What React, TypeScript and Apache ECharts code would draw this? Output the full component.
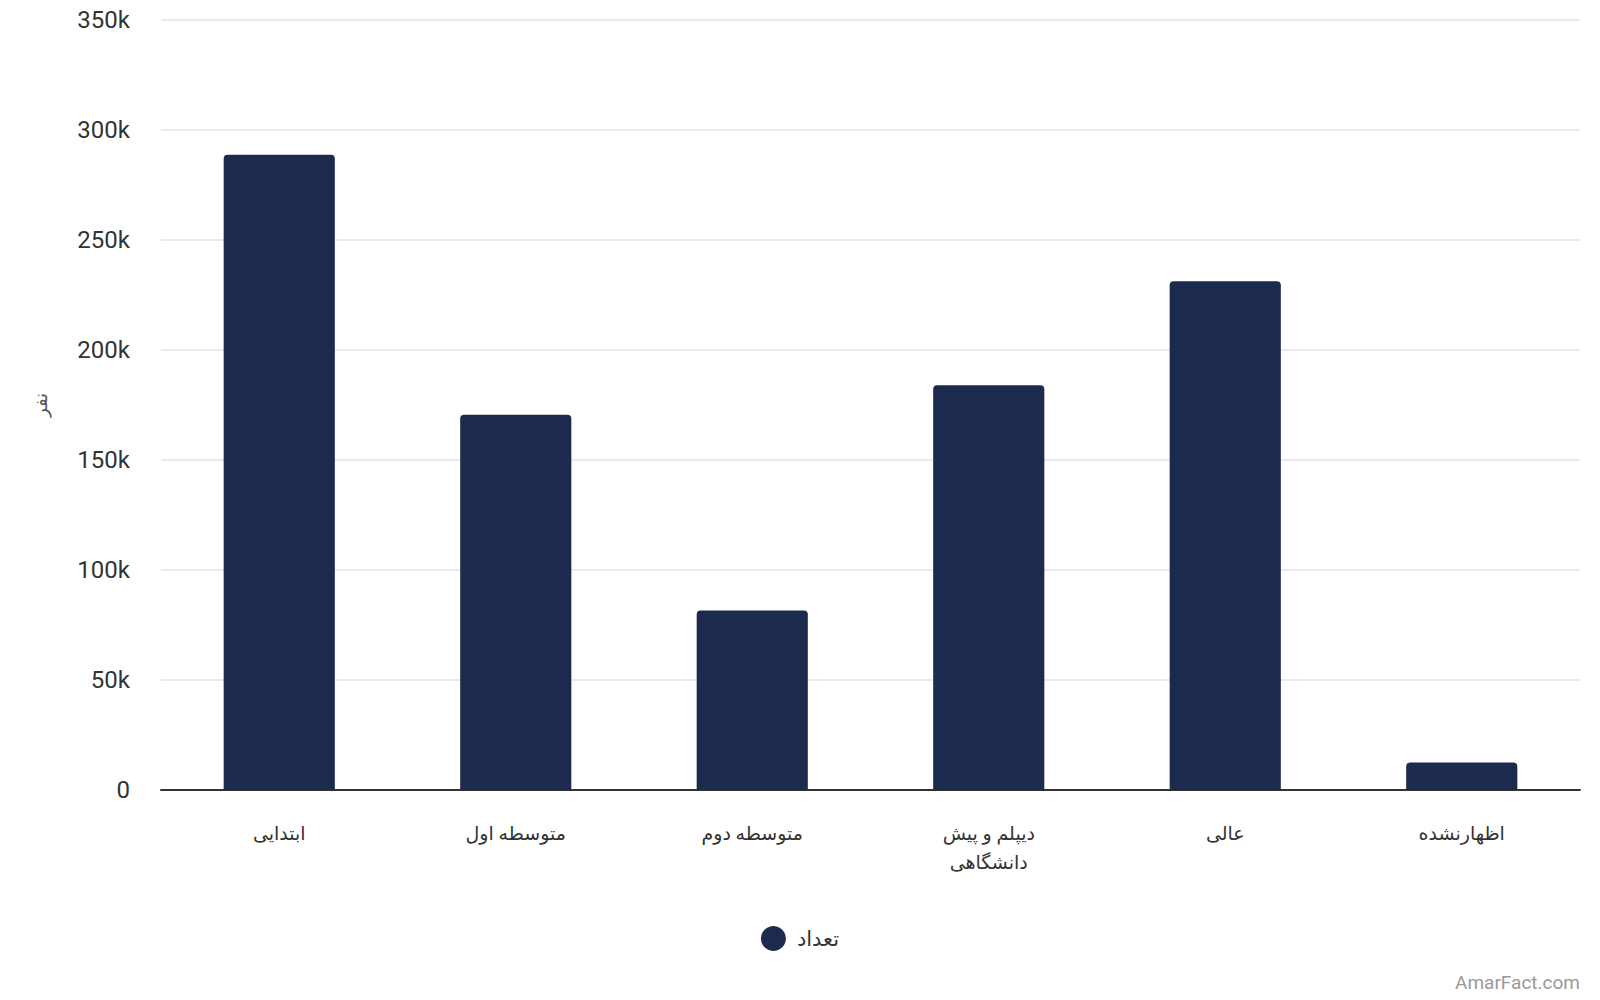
import { useEffect, useRef } from "react";
import * as echarts from "echarts";

const categories = [
  "ابتدایی",
  "متوسطه اول",
  "متوسطه دوم",
  "دیپلم و پیش دانشگاهی",
  "عالی",
  "اظهارنشده",
];
const counts = [288800, 170600, 81600, 184000, 231300, 12500];
const seriesName = "تعداد";
const yAxisName = "نفر";

const FONT = "Roboto, 'DejaVu Sans', sans-serif";

// wrap labels on word boundaries, about 12 characters a line
function wrap(label: string) {
  const lines: string[] = [];
  let cur = "";
  for (const w of label.split(" ")) {
    const next = cur ? cur + " " + w : w;
    if (next.length > 12 && cur) {
      lines.push(cur);
      cur = w;
    } else {
      cur = next;
    }
  }
  if (cur) lines.push(cur);
  return lines.join("\n");
}

export default function App() {
  const chartRef = useRef<HTMLDivElement>(null);

  useEffect(() => {
    document.body.style.margin = "0";
    if (!chartRef.current) return;
    const chart = echarts.init(chartRef.current, null, { renderer: "svg" });

    chart.setOption({
      animation: false,
      backgroundColor: "#fff",
      textStyle: { fontFamily: FONT },
      grid: { left: 161, right: 20, top: 20, bottom: 210 },
      legend: {
        bottom: 44,
        left: "center",
        icon: "circle",
        itemWidth: 25,
        itemHeight: 25,
        itemGap: 10,
        textStyle: {
          fontSize: 21,
          color: "#333",
          fontFamily: FONT,
          padding: [0, 0, 0, 6],
        },
        data: [seriesName],
      },
      xAxis: {
        type: "category",
        data: categories,
        axisLine: { show: true, lineStyle: { color: "#333", width: 2 } },
        axisTick: { show: false },
        axisLabel: {
          color: "#333",
          fontSize: 19,
          margin: 29,
          lineHeight: 29,
          fontFamily: FONT,
          formatter: (v: string) => wrap(v),
        },
      },
      yAxis: {
        type: "value",
        min: 0,
        max: 350000,
        interval: 50000,
        name: yAxisName,
        nameLocation: "middle",
        nameGap: 112,
        nameRotate: 90,
        nameTextStyle: { fontSize: 18, color: "#555", fontFamily: FONT },
        axisLine: { show: false },
        axisTick: { show: false },
        splitLine: { lineStyle: { color: "#e3e3e3", width: 1.5 } },
        axisLabel: {
          color: "#333",
          fontSize: 24,
          margin: 31,
          fontFamily: FONT,
          formatter: (v: number) => (v === 0 ? "0" : v / 1000 + "k"),
        },
      },
      series: [
        {
          name: seriesName,
          type: "bar",
          data: counts,
          barWidth: "47%",
          itemStyle: { color: "#1c2b4d", borderRadius: [4, 4, 0, 0] },
        },
      ],
      graphic: [
        {
          type: "text",
          right: 20,
          bottom: 8,
          style: {
            text: "AmarFact.com",
            fill: "#999",
            fontSize: 19,
            fontFamily: FONT,
          },
        },
      ],
    });

    return () => {
      chart.dispose();
    };
  }, []);

  return <div ref={chartRef} style={{ width: 1600, height: 1000 }} />;
}
